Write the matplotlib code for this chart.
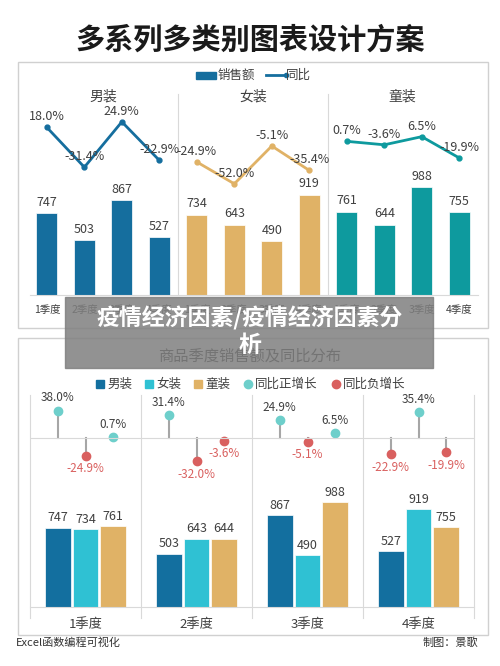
import matplotlib
matplotlib.use("Agg")
import matplotlib.pyplot as plt
from matplotlib.patches import Rectangle
import numpy as np

plt.rcParams["font.family"] = ["Noto Sans CJK SC", "DejaVu Sans"]

# data
groups = ["男装", "女装", "童装"]
quarters = ["1季度", "2季度", "3季度", "4季度"]
sales = {"男装": [747, 503, 867, 527], "女装": [734, 643, 490, 919], "童装": [761, 644, 988, 755]}
yoy_top = {"男装": [18.0, -31.4, 24.9, -22.9], "女装": [-24.9, -52.0, -5.1, -35.4], "童装": [0.7, -3.6, 6.5, -19.9]}
# bottom chart growth values, as shown per quarter
yoy_bottom = [[38.0, -24.9, 0.7], [31.4, -32.0, -3.6], [24.9, -5.1, 6.5], [-22.9, 35.4, -19.9]]

top_colors = {"男装": "#156e9e", "女装": "#e0b266", "童装": "#0e9a9e"}
bot_colors = ["#136f9f", "#2fc1d3", "#e0b266"]
pos_c, neg_c = "#6ecfcb", "#d9605f"
grid_c = "#d9d9d9"
txt_c = "#404040"

W, H = 500, 666
fig = plt.figure(figsize=(W / 100, H / 100), dpi=100)


def fx(px):
    return px / W


def fy(py):
    return 1 - py / H


def box(x0, y0, x1, y1):
    fig.add_artist(Rectangle((fx(x0), fy(y1)), fx(x1 - x0), (y1 - y0) / H,
                             transform=fig.transFigure, fill=False, ec="#d0d0d0", lw=1))


fig.text(0.5, fy(40), "多系列多类别图表设计方案", ha="center", va="center",
         fontsize=21, fontweight="bold", color="#1a1a1a")

# ---------- top panel ----------
box(18, 62, 488, 328)
ax = fig.add_axes([fx(30), fy(295), fx(448), 195 / H])
ax2 = ax.twinx()
for gi, g in enumerate(groups):
    xs = np.arange(4) + gi * 4
    ax.bar(xs, sales[g], width=0.56, color=top_colors[g], edgecolor="white", lw=0.5)
    for x, v in zip(xs, sales[g]):
        ax.text(x, v + 40, str(v), ha="center", va="bottom", fontsize=9, color=txt_c)
    ax2.plot(xs, yoy_top[g], color=top_colors[g], lw=2, marker="o", ms=3.5)
    for x, v in zip(xs, yoy_top[g]):
        ax2.text(x, v + 5, f"{v:.1f}%", ha="center", va="bottom", fontsize=9, color=txt_c)
    fig.text(fx(30 + 37.45 * (gi * 4 + 1.95)), fy(97), g, ha="center", va="center",
             fontsize=10, color=txt_c)
ax.set_xlim(-0.45, 11.5)
ax.set_ylim(0, 1784)
ax2.set_ylim(-190, 52)
for a in (ax, ax2):
    a.set_yticks([])
    for s in a.spines.values():
        s.set_visible(False)
ax.spines["bottom"].set_visible(True)
ax.spines["bottom"].set_color(grid_c)
for d in (3.5, 7.5):
    ax.axvline(d, ymin=0, ymax=1.03, color=grid_c, lw=0.8, clip_on=False)
ax.set_xticks(np.arange(12))
ax.set_xticklabels(quarters * 3, fontsize=7.5, color=txt_c)
ax.tick_params(axis="x", length=0, pad=7)
# legend
fig.add_artist(Rectangle((fx(196), fy(79)), fx(20), 7 / H, transform=fig.transFigure,
                         color=top_colors["男装"]))
fig.text(fx(218), fy(75), "销售额", va="center", fontsize=9, color=txt_c)
fig.add_artist(plt.Line2D([fx(266), fx(286)], [fy(75), fy(75)], transform=fig.transFigure,
                          color=top_colors["男装"], lw=2, marker="o", ms=3, markevery=[1]))
fig.text(fx(286), fy(75), "同比", va="center", fontsize=9, color=txt_c)

# ---------- bottom panel ----------
box(18, 338, 488, 635)
fig.text(0.5, fy(356), "商品季度销售额及同比分布", ha="center", va="center",
         fontsize=11, color="#333333")
bx = fig.add_axes([fx(30), fy(607), fx(444), 212 / H])
bx2 = bx.twinx()
offs = [-0.25, 0, 0.25]
for q in range(4):
    for k, g in enumerate(groups):
        x = q + offs[k]
        v = sales[g][q]
        bx.bar(x, v, width=0.23, color=bot_colors[k], edgecolor="white", lw=0.5)
        bx.text(x, v + 30, str(v), ha="center", va="bottom", fontsize=9, color=txt_c)
        r = yoy_bottom[q][k]
        c = pos_c if r >= 0 else neg_c
        bx2.plot([x, x], [0, r], color="#a6a6a6", lw=1.5)
        bx2.plot(x, r, "o", color=c, ms=6)
        if r >= 0:
            bx2.text(x, r + 9, f"{r:.1f}%", ha="center", va="bottom", fontsize=8.5, color=txt_c)
        else:
            bx2.text(x, r - 9, f"{r:.1f}%", ha="center", va="top", fontsize=8.5, color=neg_c)
bx.set_xlim(-0.5, 3.5)
bx.set_ylim(0, 1995)
bx2.set_ylim(-234.7, 59.7)
bx2.axhline(0, color=grid_c, lw=0.8)
for a in (bx, bx2):
    a.set_yticks([])
    for s in a.spines.values():
        s.set_visible(False)
bx.spines["bottom"].set_visible(True)
bx.spines["bottom"].set_color(grid_c)
for d in np.arange(-0.5, 4, 1.0):
    bx.axvline(d, ymin=-0.05, ymax=1.0, color=grid_c, lw=0.8, clip_on=False)
bx.set_xticks(range(4))
bx.set_xticklabels(quarters, fontsize=9.5, color=txt_c)
bx.tick_params(axis="x", length=0, pad=8)
# legend
leg_items = [("男装", bot_colors[0], "s"), ("女装", bot_colors[1], "s"), ("童装", bot_colors[2], "s"),
             ("同比正增长", pos_c, "o"), ("同比负增长", neg_c, "o")]
lx = [100, 149, 198, 248, 336]
for (lab, c, m), x in zip(leg_items, lx):
    fig.add_artist(plt.Line2D([fx(x)], [fy(384)], transform=fig.transFigure, marker=m,
                              color=c, ms=6, ls=""))
    fig.text(fx(x + 7), fy(384), lab, va="center", fontsize=9, color=txt_c)

fig.text(fx(16), fy(643), "Excel函数编程可视化", va="center", fontsize=8, color="#333333")
fig.text(fx(478), fy(643), "制图：景歌", va="center", ha="right", fontsize=8, color="#333333")

# overlay banner
fig.add_artist(Rectangle((fx(65), fy(368)), fx(368), 71 / H, transform=fig.transFigure,
                         color="#7f7f7f", alpha=0.85, zorder=10))
fig.text(0.5, fy(318), "疫情经济因素/疫情经济因素分", ha="center", va="center", fontsize=16.5,
         fontweight="bold", color="white", zorder=11)
fig.text(0.5, fy(345), "析", ha="center", va="center", fontsize=16.5,
         fontweight="bold", color="white", zorder=11)

fig.savefig("out.png", dpi=100, facecolor="white")
